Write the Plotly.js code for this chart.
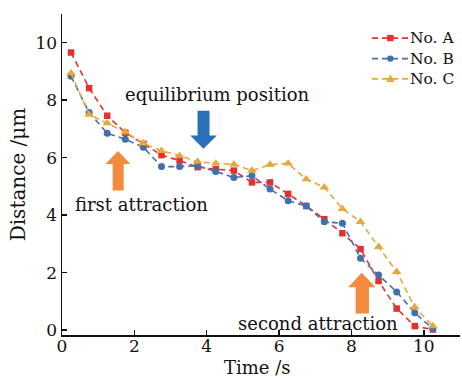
<!DOCTYPE html>
<html>
<head>
<meta charset="utf-8">
<script src="https://cdn.plot.ly/plotly-3.0.1.min.js"></script>
<style>html,body{margin:0;padding:0;background:#fff;}#chart{width:462px;height:378px;}</style>
</head>
<body>
<div id="chart"></div>
<script>
var timeA = [0.25,0.75,1.25,1.75,2.25,2.75,3.25,3.75,4.25,4.75,5.25,5.75,6.25,6.75,7.25,7.75,8.25,8.75,9.25,9.75,10.25];
var distA = [9.66,8.42,7.46,6.87,6.48,6.09,5.90,5.67,5.60,5.55,5.14,5.14,4.74,4.32,3.86,3.37,2.82,1.71,0.75,0.14,0.02];
var timeB = [0.25,0.75,1.25,1.75,2.25,2.75,3.25,3.75,4.25,4.75,5.25,5.75,6.25,6.75,7.25,7.75,8.25,8.75,9.25,9.75,10.25];
var distB = [8.83,7.57,6.85,6.64,6.36,5.69,5.69,5.72,5.52,5.31,5.37,4.91,4.50,4.32,3.77,3.72,2.50,1.92,1.33,0.60,0.05];
var timeC = [0.25,0.75,1.25,1.75,2.25,2.75,3.25,3.75,4.25,4.75,5.25,5.75,6.25,6.75,7.25,7.75,8.25,8.75,9.25,9.75,10.25];
var distC = [8.94,7.50,7.20,6.89,6.50,6.24,6.07,5.86,5.80,5.77,5.55,5.76,5.80,5.25,4.97,4.22,3.77,2.90,2.03,0.80,0.14];
var seriesNames = ['No. A','No. B','No. C'];
var xTickVals = [0,2,4,6,8,10,11];
var xTickText = ['0','2','4','6','8','10',''];
var yTickVals = [0,2,4,6,8,10,11];
var yTickText = ['0','2','4','6','8','10',''];
var xTitle = 'Time /s';
var yTitle = 'Distance /μm';

var FONT = 'DejaVu Serif, Liberation Serif, serif';
var cA = '#e3312f', cB = '#4270ad', cC = '#e6a83c';
var colors = [cA, cB, cC];
var DASH = '6px,4px';

var traces = [
  {x: timeA, y: distA, name: seriesNames[0], mode: 'lines+markers',
   line: {color: cA, dash: DASH, width: 1.6},
   marker: {symbol: 'square', size: 6.5, color: cA}},
  {x: timeB, y: distB, name: seriesNames[1], mode: 'lines+markers',
   line: {color: cB, dash: DASH, width: 1.6},
   marker: {symbol: 'circle', size: 7, color: cB}},
  {x: timeC, y: distC, name: seriesNames[2], mode: 'lines+markers',
   line: {color: cC, dash: DASH, width: 1.6},
   marker: {symbol: 'triangle-up', size: 8.5, color: cC}}
];

// custom legend (paper coordinates), plot area is 398 x 321 px
var PW = 398, PH = 321;
var legX0 = 0.779, legX1 = 0.872, legMid = 0.825, legText = 0.871;
var legRows = [0.925, 0.861, 0.798];
var shapes = [];
var annotations = [];
for (var i = 0; i < 3; i++) {
  var yy = legRows[i];
  shapes.push({type: 'line', xref: 'paper', yref: 'paper', x0: legX0, x1: legX1, y0: yy, y1: yy,
               line: {color: colors[i], width: 1.6, dash: DASH}});
  annotations.push({xref: 'paper', yref: 'paper', x: legText, y: yy, xanchor: 'left', yanchor: 'middle',
                    text: seriesNames[i], showarrow: false, borderpad: 0,
                    font: {family: FONT, size: 15.5, color: '#111'}});
}
var hx = 3.2 / PW, hy = 3.2 / PH;
shapes.push({type: 'rect', xref: 'paper', yref: 'paper', x0: legMid - hx, x1: legMid + hx,
             y0: legRows[0] - hy, y1: legRows[0] + hy, fillcolor: cA, line: {width: 0}});
shapes.push({type: 'circle', xref: 'paper', yref: 'paper', x0: legMid - hx, x1: legMid + hx,
             y0: legRows[1] - hy, y1: legRows[1] + hy, fillcolor: cB, line: {width: 0}});
var tx = 4.2 / PW, tu = 4.5 / PH, td = 3.2 / PH;
shapes.push({type: 'path', xref: 'paper', yref: 'paper', fillcolor: cC, line: {width: 0},
             path: 'M ' + (legMid - tx) + ' ' + (legRows[2] - td) + ' L ' + legMid + ' ' + (legRows[2] + tu) +
                   ' L ' + (legMid + tx) + ' ' + (legRows[2] - td) + ' Z'});

// block arrows (data coordinates)
shapes.push({type: 'path', xref: 'x', yref: 'y', layer: 'above', line: {width: 0}, fillcolor: '#2b70bb',
     path: 'M 3.746 7.63 L 3.746 6.77 L 3.545 6.77 L 3.91 6.31 L 4.281 6.77 L 4.077 6.77 L 4.077 7.63 Z'});
shapes.push({type: 'path', xref: 'x', yref: 'y', layer: 'above', line: {width: 0}, fillcolor: '#f28b3e',
     path: 'M 1.401 4.854 L 1.401 5.784 L 1.200 5.784 L 1.550 6.237 L 1.890 5.784 L 1.705 5.784 L 1.705 4.854 Z'});
shapes.push({type: 'path', xref: 'x', yref: 'y', layer: 'above', line: {width: 0}, fillcolor: '#f28b3e',
     path: 'M 8.116 0.582 L 8.116 1.488 L 7.912 1.488 L 8.281 1.997 L 8.668 1.488 L 8.483 1.488 L 8.483 0.582 Z'});

annotations.push({x: 4.29, y: 8.19, xref: 'x', yref: 'y', text: 'equilibrium position', showarrow: false,
     font: {family: FONT, size: 18, color: '#111'}});
annotations.push({x: 2.21, y: 4.36, xref: 'x', yref: 'y', text: 'first attraction', showarrow: false,
     font: {family: FONT, size: 18, color: '#111'}});
annotations.push({x: 7.08, y: 0.24, xref: 'x', yref: 'y', text: 'second attraction', showarrow: false,
     font: {family: FONT, size: 18, color: '#111'}});
// x-axis title placed as an annotation below the tick labels
annotations.push({xref: 'paper', yref: 'paper', x: 0.491, y: -0.0997, xanchor: 'center', yanchor: 'middle',
     text: xTitle, showarrow: false, borderpad: 0,
     font: {family: FONT, size: 18, color: '#111'}});

var layout = {
  width: 462, height: 378,
  margin: {l: 62, r: 2, t: 14, b: 43},
  paper_bgcolor: '#fff', plot_bgcolor: '#fff',
  font: {family: FONT, size: 17, color: '#111'},
  showlegend: false,
  xaxis: {range: [0, 11], showgrid: false, zeroline: false, showline: true,
          linecolor: '#111', linewidth: 1.5, ticks: 'inside', ticklen: 5, tickwidth: 1.5,
          tickcolor: '#111', tickvals: xTickVals, ticktext: xTickText, ticklabelstandoff: -5,
          tickfont: {family: FONT, size: 17, color: '#111'}},
  yaxis: {range: [-0.17, 11], showgrid: false, zeroline: false, showline: true,
          linecolor: '#111', linewidth: 1.5, ticks: 'inside', ticklen: 5, tickwidth: 1.5,
          tickcolor: '#111', tickvals: yTickVals, ticktext: yTickText,
          tickfont: {family: FONT, size: 17, color: '#111'},
          title: {text: yTitle, font: {family: FONT, size: 20, color: '#111'}, standoff: 4}},
  annotations: annotations,
  shapes: shapes
};

Plotly.newPlot('chart', traces, layout, {staticPlot: true, displayModeBar: false});
</script>
</body>
</html>
